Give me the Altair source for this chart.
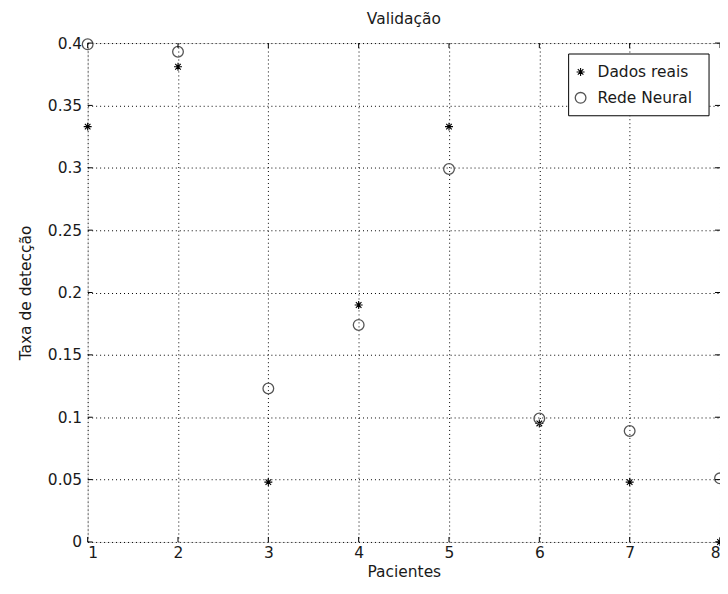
import altair as alt
import pandas as pd

pacientes = [1, 2, 3, 4, 5, 6, 7, 8]
dados_reais = [0.333, 0.381, 0.048, 0.190, 0.333, 0.095, 0.048, 0.0]
rede_neural = [0.399, 0.393, 0.123, 0.174, 0.299, 0.099, 0.089, 0.051]
x_ticks = [1, 2, 3, 4, 5, 6, 7, 8]
y_ticks = [0, 0.05, 0.1, 0.15, 0.2, 0.25, 0.3, 0.35, 0.4]
series_names = ["Dados reais", "Rede Neural"]

W, H = 635, 501
FONT = "DejaVu Sans"
FS = 15.5
TXT = "#1a1a1a"

df = pd.DataFrame({
    "Pacientes": pacientes * 2,
    "Taxa": dados_reais + rede_neural,
    "Serie": [series_names[0]] * 8 + [series_names[1]] * 8,
})
df_real = df[df.Serie == series_names[0]]
df_rn = df[df.Serie == series_names[1]]
xt = pd.DataFrame({"x": x_ticks})
yt = pd.DataFrame({"y": y_ticks})

xscale = alt.Scale(domain=[1, 8], nice=False, zero=False)
yscale = alt.Scale(domain=[0, 0.4], nice=False)

X = alt.X("Pacientes:Q", scale=xscale,
          axis=alt.Axis(values=x_ticks, format="d", title="Pacientes", grid=True,
                        gridDash=[1, 3], gridColor="black", gridOpacity=1, gridWidth=1,
                        domain=False, ticks=False, labelPadding=4,
                        labelFontSize=FS, labelFont=FONT, labelColor=TXT,
                        titleFont=FONT, titleFontSize=FS, titleFontWeight="normal",
                        titleColor=TXT, titlePadding=3))
Y = alt.Y("Taxa:Q", scale=yscale,
          axis=alt.Axis(values=y_ticks, format="~g", title="Taxa de detecção", grid=True,
                        gridDash=[1, 3], gridColor="black", gridOpacity=1, gridWidth=1,
                        domain=False, ticks=False, labelPadding=6,
                        labelFontSize=FS, labelFont=FONT, labelColor=TXT,
                        titleFont=FONT, titleFontSize=FS, titleFontWeight="normal",
                        titleColor=TXT, titlePadding=14))

asterisk = "M-1,0L1,0M0,-1L0,1M-0.7,-0.7L0.7,0.7M-0.7,0.7L0.7,-0.7"

real = alt.Chart(df_real).mark_point(shape=asterisk, filled=False, size=64,
                                     strokeWidth=1.1, color="black", opacity=1).encode(x=X, y=Y)
rn = alt.Chart(df_rn).mark_point(shape="circle", filled=False, size=115,
                                 strokeWidth=1.3, color="#555", opacity=1).encode(x="Pacientes:Q", y="Taxa:Q")

# inward ticks
tb = alt.Chart(xt).mark_rule(color="black").encode(x=alt.X("x:Q", scale=xscale), y=alt.value(H), y2=alt.value(H - 5))
tt = alt.Chart(xt).mark_rule(color="black").encode(x=alt.X("x:Q", scale=xscale), y=alt.value(0), y2=alt.value(5))
tl = alt.Chart(yt).mark_rule(color="black").encode(y=alt.Y("y:Q", scale=yscale), x=alt.value(0), x2=alt.value(5))
tr = alt.Chart(yt).mark_rule(color="black").encode(y=alt.Y("y:Q", scale=yscale), x=alt.value(W), x2=alt.value(W - 5))

# legend
leg_box = alt.Chart(pd.DataFrame({"a": [0]})).mark_rect(fill="white", stroke="black", strokeWidth=1).encode(
    x=alt.value(W - 152), x2=alt.value(W - 11), y=alt.value(11), y2=alt.value(73))
leg_sym_df = pd.DataFrame({"name": series_names, "yy": [29, 55]})
leg_real = alt.Chart(leg_sym_df.iloc[[0]]).mark_point(shape=asterisk, filled=False, size=64, strokeWidth=1.1,
                                                      color="black", opacity=1).encode(
    x=alt.value(W - 140), y=alt.value(29))
leg_rn = alt.Chart(leg_sym_df.iloc[[1]]).mark_point(shape="circle", filled=False, size=115, strokeWidth=1.3,
                                                    color="#555", opacity=1).encode(
    x=alt.value(W - 140), y=alt.value(55))
leg_text = alt.Chart(leg_sym_df).mark_text(align="left", baseline="middle", font=FONT, fontSize=FS,
                                           color=TXT).encode(
    x=alt.value(W - 123), y=alt.Y("yy:Q", scale=None), text="name:N")

chart = alt.layer(real, rn, tb, tt, tl, tr, leg_box, leg_real, leg_rn, leg_text).properties(
    width=W, height=H,
    title=alt.Title("Validação", font=FONT, fontSize=FS, fontWeight="normal", color=TXT, offset=9),
    autosize=alt.AutoSizeParams(type="none"),
    padding={"left": 80, "top": 34, "right": 0, "bottom": 38},
).configure_view(stroke="black", strokeWidth=1.1).configure(background="white")

chart.save("out.html", embed_options={"renderer": "svg", "actions": False})
